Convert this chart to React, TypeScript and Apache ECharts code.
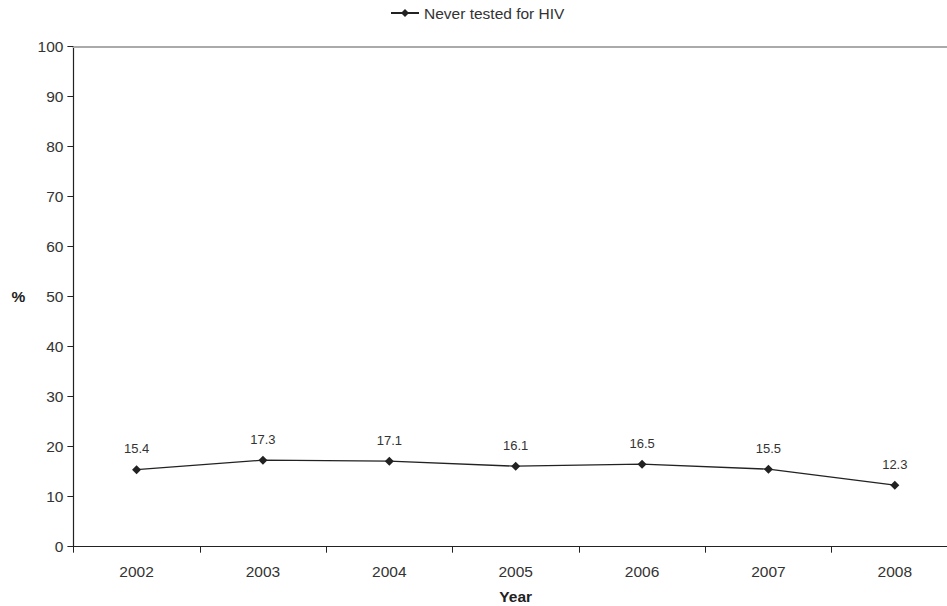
import React, { useEffect, useRef } from "react";
import * as echarts from "echarts";

const years = ["2002", "2003", "2004", "2005", "2006", "2007", "2008"];
const neverTested = [15.4, 17.3, 17.1, 16.1, 16.5, 15.5, 12.3];
const seriesName = "Never tested for HIV";

export default function App() {
  const ref = useRef<HTMLDivElement>(null);
  useEffect(() => {
    if (!ref.current) return;
    const chart = echarts.init(ref.current, null, { renderer: "svg" });
    const font = "'Liberation Sans', Arial, sans-serif";
    chart.setOption({
      animation: false,
      textStyle: { fontFamily: font },
      legend: {
        top: 0,
        left: 385,
        itemWidth: 28,
        itemHeight: 10,
        itemGap: 4,
        textStyle: { fontSize: 15.5, color: "#333", fontFamily: font },
        data: [seriesName],
      },
      grid: { left: 73.4, top: 46.7, right: -11, height: 500, outerBoundsMode: "none", containLabel: false },
      xAxis: [
        {
          type: "category",
          data: years,
          boundaryGap: true,
          position: "bottom",
          name: "Year",
          nameLocation: "middle",
          nameGap: 42,
          nameTextStyle: { fontSize: 15.5, fontWeight: "bold", color: "#222", fontFamily: font },
          axisLine: { lineStyle: { color: "#222", width: 1.2 } },
          axisTick: { show: true, length: 6, alignWithLabel: false, lineStyle: { color: "#222" } },
          axisLabel: { fontSize: 15.5, color: "#333", margin: 17, fontFamily: font },
        },
        {
          type: "category",
          data: years,
          position: "top",
          axisLine: { show: true, lineStyle: { color: "#aaa", width: 2 } },
          axisTick: { show: false },
          axisLabel: { show: false },
        },
      ],
      yAxis: {
        type: "value",
        min: 0,
        max: 100,
        interval: 10,
        name: "%",
        nameLocation: "middle",
        nameRotate: 0,
        nameGap: 48,
        nameTextStyle: { fontSize: 15.5, fontWeight: "bold", color: "#222", fontFamily: font },
        axisLine: { show: true, lineStyle: { color: "#222", width: 1.2 } },
        axisTick: { show: true, length: 6, lineStyle: { color: "#222" } },
        axisLabel: { fontSize: 15.5, color: "#333", margin: 10, fontFamily: font },
        splitLine: { show: false },
      },
      series: [
        {
          name: seriesName,
          type: "line",
          data: neverTested,
          xAxisIndex: 0,
          symbol: "diamond",
          symbolSize: 9,
          itemStyle: { color: "#222" },
          lineStyle: { color: "#222", width: 1.3 },
          label: {
            show: true,
            position: "top",
            distance: 10,
            fontSize: 13,
            color: "#333",
            fontFamily: font,
            formatter: (p: any) => p.value.toFixed(1),
          },
        },
      ],
    });
    return () => chart.dispose();
  }, []);
  return (
    <div
      ref={ref}
      style={{ position: "fixed", left: 0, top: 0, width: 947, height: 606, background: "#fff" }}
    />
  );
}
